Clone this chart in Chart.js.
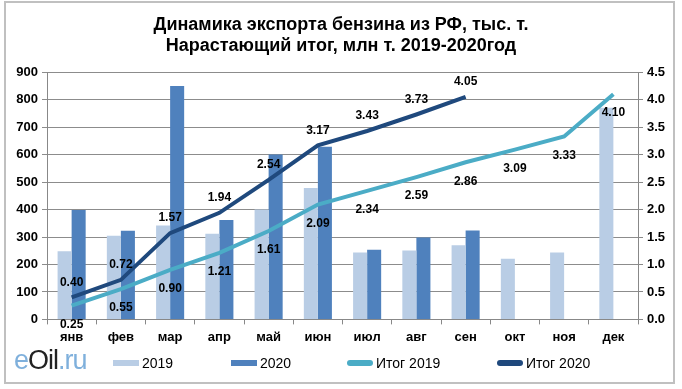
<!DOCTYPE html>
<html>
<head>
<meta charset="utf-8">
<script src="https://cdn.jsdelivr.net/npm/chart.js@4"></script>
<style>
  body { margin: 0; background: #fff; }
  #wrap { position: relative; width: 682px; height: 389px; }
  #frame { position: absolute; left: 4px; top: 1px; width: 667px; height: 379px; border: 2px solid #c0c0c0; }
  #logo { position: absolute; left: 14px; top: 345px; font: 27px 'Liberation Sans', Arial, sans-serif; letter-spacing: -1px; }
  #logo .e { color: #7fb0dc; }
  #logo .o { color: #222; }
  .lg { position: absolute; top: 354px; height: 18px; font: 14px 'Liberation Sans', Arial, sans-serif; color: #000; line-height: 18px; white-space: nowrap; }
  .lg i { display: inline-block; width: 26px; height: 6px; vertical-align: middle; margin-right: 3px; margin-top: -2px; }
</style>
</head>
<body>
<div id="wrap">
  <div id="frame"></div>
  <canvas id="exportChart" width="682" height="389"></canvas>
  <div id="logo"><span class="e">e</span><span class="o">Oil</span><span class="e">.ru</span></div>
  <div id="legend"></div>
</div>
<script>
var months = ['янв', 'фев', 'мар', 'апр', 'май', 'июн', 'июл', 'авг', 'сен', 'окт', 'ноя', 'дек'];
var exp2019 = [248, 305, 342, 312, 400, 478, 244, 251, 270, 221, 244, 771];
var exp2020 = [398, 323, 850, 362, 600, 629, 254, 298, 324, null, null, null];
var total2019 = [0.25, 0.55, 0.90, 1.21, 1.61, 2.09, 2.34, 2.59, 2.86, 3.09, 3.33, 4.10];
var total2020 = [0.40, 0.72, 1.57, 1.94, 2.54, 3.17, 3.43, 3.73, 4.05, null, null, null];

var fontName = "'Liberation Sans Narrow', 'Liberation Sans', Arial, sans-serif";
Chart.defaults.font.family = fontName;
Chart.defaults.color = '#000';

// подписи значений для линий нарастающего итога
var lineLabels = {
   id: 'lineLabels',
   afterDatasetsDraw: function(chart) {
      var c = chart.ctx;
      c.save();
      c.font = 'bold 12px ' + fontName;
      c.fillStyle = '#000';
      c.textAlign = 'center';
      c.textBaseline = 'middle';
      chart.data.datasets.forEach(function(ds, i) {
         if (ds.type !== 'line') return;
         var meta = chart.getDatasetMeta(i);
         var shift = ds.label === 'Итог 2019' ? 19 : -15;
         meta.data.forEach(function(pt, j) {
            if (ds.data[j] == null) return;
            c.fillText(ds.data[j].toFixed(2), pt.x, pt.y + shift);
         });
      });
      c.restore();
   }
};

var chart = new Chart(document.getElementById('exportChart'), {
   data: {
      labels: months,
      datasets: [
         { type: 'bar', label: '2019', data: exp2019, backgroundColor: '#b9cde5', yAxisID: 'y', order: 2,
           categoryPercentage: 0.57, barPercentage: 1.0 },
         { type: 'bar', label: '2020', data: exp2020, backgroundColor: '#4f81bd', yAxisID: 'y', order: 2,
           categoryPercentage: 0.57, barPercentage: 1.0 },
         { type: 'line', label: 'Итог 2019', data: total2019, borderColor: '#4bacc6', backgroundColor: '#4bacc6',
           borderWidth: 4, pointRadius: 0, yAxisID: 'y1', order: 1 },
         { type: 'line', label: 'Итог 2020', data: total2020, borderColor: '#1f497d', backgroundColor: '#1f497d',
           borderWidth: 4, pointRadius: 0, yAxisID: 'y1', order: 0 }
      ]
   },
   options: {
      responsive: false,
      animation: false,
      layout: { padding: { left: 4, right: 4, top: 0, bottom: 39 } },
      plugins: {
         title: {
            display: true,
            text: ['Динамика экспорта бензина из РФ, тыс. т.', 'Нарастающий итог, млн т. 2019-2020год'],
            font: { size: 18, weight: 'bold' },
            color: '#000',
            padding: { top: 14, bottom: 15 },
            lineHeight: 1.35
         },
         legend: { display: false },
         tooltip: { enabled: false }
      },
      scales: {
         x: {
            offset: true,
            grid: { display: true, drawOnChartArea: false, offset: true, tickLength: 5, color: '#888' },
            border: { color: '#888' },
            ticks: { font: { size: 13, weight: 'bold' }, color: '#000', padding: 5 }
         },
         y: {
            position: 'left',
            min: 0, max: 900,
            ticks: { stepSize: 100, font: { size: 13, weight: 'bold' }, color: '#000', padding: 4 },
            grid: { color: '#8c8c8c', tickLength: 5 },
            border: { color: '#888' },
            afterFit: function(s) { s.width = 43; }
         },
         y1: {
            position: 'right',
            min: 0, max: 4.5,
            ticks: { stepSize: 0.5, font: { size: 13, weight: 'bold' }, color: '#000', padding: 4,
                     callback: function(v) { return v.toFixed(1); } },
            grid: { drawOnChartArea: false, tickLength: 5, color: '#888' },
            border: { color: '#888' },
            afterFit: function(s) { s.width = 40; }
         }
      }
   },
   plugins: [lineLabels]
});

// легенда внизу
var legendX = [113, 231, 347, 497];
var legendHTML = '';
chart.data.datasets.forEach(function(ds, i) {
   var round = ds.type === 'line' ? 'border-radius:3px;' : '';
   legendHTML += '<div class="lg" style="left:' + legendX[i] + 'px"><i style="background:' +
      ds.backgroundColor + ';' + round + '"></i>' + ds.label + '</div>';
});
document.getElementById('legend').innerHTML = legendHTML;
</script>
</body>
</html>
